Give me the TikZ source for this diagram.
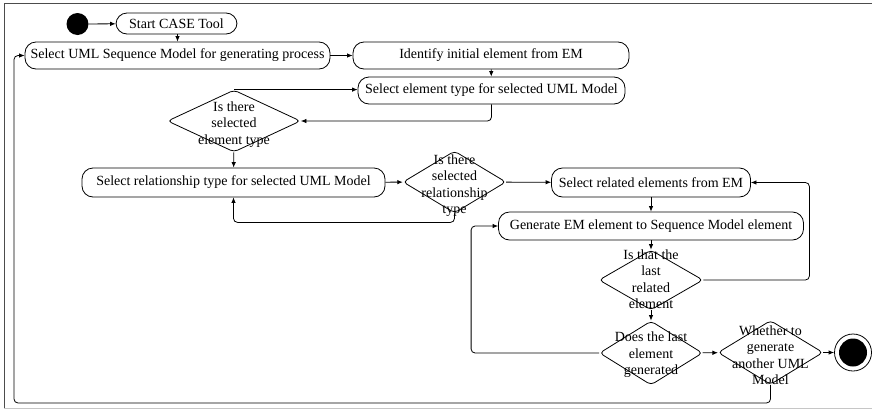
\documentclass[tikz,border=0pt]{standalone}
\usepackage{fontspec}
\setmainfont{Liberation Serif}
\usetikzlibrary{shapes.geometric,arrows.meta}
\begin{document}
\begin{tikzpicture}[x=1pt,y=-1pt,
  txt/.style={font=\fontsize{14}{16.5}\selectfont},
  act/.style={txt,draw,rectangle,rounded corners=11pt,inner sep=0pt,line width=0.8pt},
  dia/.style={draw,diamond,rounded corners=4pt,inner sep=0pt,line width=0.8pt},
  dtext/.style={txt,align=center,inner sep=0pt},
  conn/.style={line width=0.8pt,rounded corners=4pt,-{Latex[length=5.5pt,width=4.5pt]}},
  frameline/.style={line width=1pt}]
\useasboundingbox (0,0) rectangle (872,410);
% outer frame
\draw[frameline,gray!60!black] (4,408) -- (4,3) -- (872,3);
\draw[frameline,gray!45] (4,408) -- (872,408);

% initial and final states
\node[circle,fill=black,minimum size=22pt,inner sep=0pt] (start) at (77.5,24) {};
\node[circle,draw,line width=0.8pt,minimum size=37pt,inner sep=0pt] (stop) at (853,352.5) {};
\fill (stop.center) circle (14);

% activities
\node[act,minimum width=121pt,minimum height=21pt] (s0) at (176.5,23.5) {Start CASE Tool};
\node[act,minimum width=305pt,minimum height=27pt] (s1) at (177.5,55.5) {Select UML Sequence Model for generating process};
\node[act,minimum width=276pt,minimum height=27pt] (s2) at (491,55.5) {Identify initial element from EM};
\node[act,minimum width=267pt,minimum height=27pt] (s3) at (491.5,90.5) {Select element type for selected UML Model};
\node[act,minimum width=303pt,minimum height=29pt] (s4) at (233.5,182.5) {Select relationship type for selected UML Model};
\node[act,minimum width=199pt,minimum height=29pt] (s5) at (651,182.5) {Select related elements from EM};
\node[act,minimum width=305pt,minimum height=28pt] (s6) at (651,226) {Generate EM element to Sequence Model element};

% decisions
\node[dia,minimum width=133pt,minimum height=62pt] (d1) at (234,121) {};
\node[dtext] at (234,124.5) {Is there\\selected\\element type};
\node[dia,minimum width=103pt,minimum height=62pt] (d2) at (454.5,182) {};
\node[dtext] at (454.5,185.5) {Is there\\selected\\relationship\\type};
\node[dia,minimum width=104pt,minimum height=60pt] (d3) at (651,280) {};
\node[dtext] at (651,279) {Is that the\\last\\related\\element};
\node[dia,minimum width=103pt,minimum height=64pt] (d4) at (651,353) {};
\node[dtext] at (651,355) {Does the last\\element\\generated};
\node[dia,minimum width=105pt,minimum height=64pt] (d5) at (770.5,352.5) {};
\node[dtext] at (770.5,355) {Whether to\\generate\\another UML\\Model};

\coordinate (back) at (14,403);

% flows
\draw[conn] (start) -- (s0);
\draw[conn] (s0.south -| s1.north) -- (s1.north);
\draw[conn] (s1) -- (s2);
\draw[conn] (s2) -- (s3);
\draw[conn] (d1.north) -- (d1.north -| s3.west);
\draw[conn] (s3.south) |- (d1.east);
\draw[conn] (d1) -- (s4);
\draw[conn] (s4) -- (d2);
\draw[conn] (d2.south) -- ++(0,9) -| (s4.south);
\draw[conn] (d2) -- (s5);
\draw[conn] (s5) -- (s6);
\draw[conn] (s6) -- (d3);
\draw[conn] (d3.east) -- ([xshift=106pt]d3.east) |- (s5.east);
\draw[conn] (d3) -- (d4);
\draw[conn] (d4.west) -- ([xshift=-128pt]d4.west) |- (s6.west);
\draw[conn] (d4) -- (d5);
\draw[conn] (d5) -- (stop);
\draw[conn] (d5.south) |- (back) |- (s1.west);
\end{tikzpicture}
\end{document}
